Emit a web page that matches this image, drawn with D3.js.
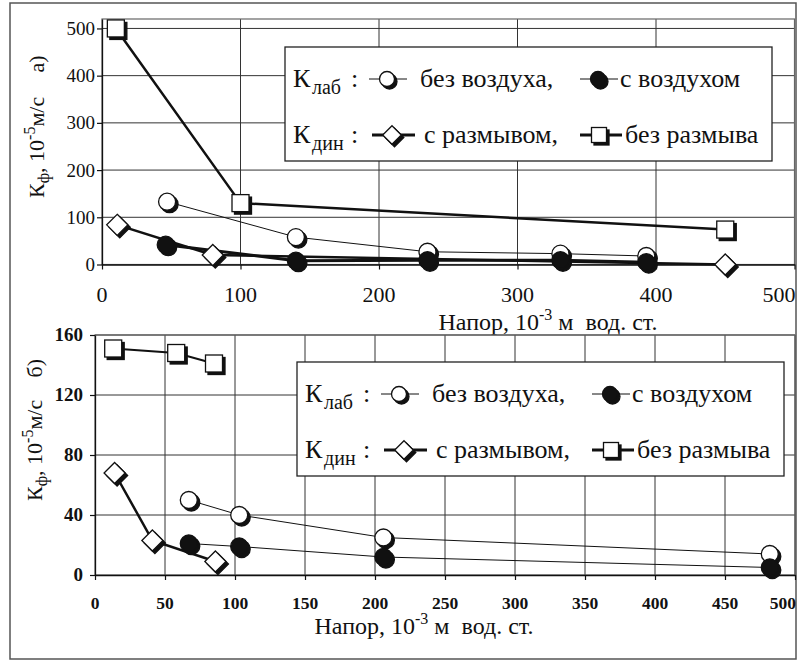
<!DOCTYPE html>
<meta charset="utf-8">
<script src="https://d3js.org/d3.v7.min.js"></script>
<style>
  body { margin: 0; background: #fff; }
</style>
<div id="chart"></div>
<script>

var SERIF = "Liberation Serif";

// ---- панель а) ----
var aXTicks = [0, 100, 200, 300, 400, 500];
var aYTicks = [0, 100, 200, 300, 400, 500];
// К лаб, без воздуха
var aNoAirX = [47, 140, 235, 331, 393];
var aNoAirY = [133, 58, 27, 23, 18];
// К лаб, с воздухом
var aAirX = [46, 140, 235, 331, 393];
var aAirY = [42, 8, 9, 9, 5];
// К дин, с размывом
var aScourX = [11, 80, 450];
var aScourY = [84, 20, 0];
// К дин, без размыва
var aNoScourX = [10, 100, 450];
var aNoScourY = [500, 130, 74];

// ---- панель б) ----
var bXTicks = [0, 50, 100, 150, 200, 250, 300, 350, 400, 450, 500];
var bYTicks = [0, 40, 80, 120, 160];
var bNoAirX = [67, 103, 206, 482];
var bNoAirY = [50, 40, 25, 14];
var bAirX = [67, 103, 206, 482];
var bAirY = [21, 19, 12, 5];
var bScourX = [14, 41, 86];
var bScourY = [68, 23, 9];
var bNoScourX = [13, 58, 85];
var bNoScourY = [151, 148, 141];

var svg = d3.select("#chart")
  .append("svg")
    .attr("width", 798)
    .attr("height", 661);

// outer frame of the scanned figure
svg.append("rect")
  .attr("x", 10).attr("y", 3)
  .attr("width", 786).attr("height", 656)
  .attr("fill", "none")
  .attr("stroke", "#555")
  .attr("stroke-width", 1.5);

// every text goes straight into the svg root, font set on the element itself
function txt(x, y, size) {
  return svg.append("text")
    .attr("x", x).attr("y", y)
    .attr("font-family", SERIF)
    .style("font-family", SERIF)
    .attr("font-size", size)
    .attr("fill", "#111");
}

function marker(g, type, cx, cy, s) {
  // shadow first, then the marker itself
  var shapes = [[2.5, "#111", "#111"], [0, type == "air" ? "#111" : "#fff", "#111"]];
  shapes.forEach(function(sh) {
    var el;
    if (type == "noair" || type == "air") {
      el = g.append("circle").attr("cx", cx + sh[0]).attr("cy", cy + sh[0]).attr("r", s * 0.5);
    } else if (type == "noscour") {
      el = g.append("rect").attr("x", cx - s * 0.5 + sh[0]).attr("y", cy - s * 0.5 + sh[0])
        .attr("width", s).attr("height", s);
    } else {
      var h = s * 0.62;
      el = g.append("path")
        .attr("d", "M0," + (-h) + "L" + h + ",0L0," + h + "L" + (-h) + ",0Z")
        .attr("transform", "translate(" + (cx + sh[0]) + "," + (cy + sh[0]) + ")");
    }
    el.attr("fill", sh[1]).attr("stroke", sh[2]).attr("stroke-width", 1.3);
  });
}

function drawPanel(p) {
  var x = d3.scaleLinear().domain([0, 500]).range(p.xRange);
  var y = d3.scaleLinear().domain(p.yDomain).range(p.yRange);
  var g = svg.append("g");

  // grid
  g.selectAll(".vg").data(p.xTicks.slice(1)).enter().append("line")
    .attr("x1", d => x(d)).attr("x2", d => x(d))
    .attr("y1", y(0)).attr("y2", y(p.yDomain[1]))
    .attr("stroke", "#333").attr("stroke-width", 1);
  g.selectAll(".hg").data(p.yTicks.slice(1)).enter().append("line")
    .attr("x1", x(0)).attr("x2", x(500))
    .attr("y1", d => y(d)).attr("y2", d => y(d))
    .attr("stroke", "#333").attr("stroke-width", 1);
  g.append("rect")
    .attr("x", x(0)).attr("y", y(p.yDomain[1]))
    .attr("width", x(500) - x(0)).attr("height", y(0) - y(p.yDomain[1]))
    .attr("fill", "none").attr("stroke", "#666").attr("stroke-width", 1.2);

  // axes: lines and tick marks from d3, labels drawn below from the same scales
  g.append("g")
    .attr("transform", "translate(0," + y(0) + ")")
    .call(d3.axisBottom(x).tickValues(p.xTicks).tickSize(5).tickFormat("").tickSizeOuter(0));
  g.append("g")
    .attr("transform", "translate(" + x(0) + ",0)")
    .call(d3.axisLeft(y).tickValues(p.yTicks).tickSize(5).tickFormat("").tickSizeOuter(0));
  g.selectAll(".domain").attr("stroke", "#111").attr("stroke-width", 1.3);
  g.selectAll(".tick line").attr("stroke", "#111").attr("stroke-width", 1.2);

  p.xTicks.forEach(function(t, i) {
    var last = i == p.xTicks.length - 1;
    txt(last ? x(t) + 1 : x(t), y(0) + p.xOff, p.xFont)
      .attr("text-anchor", last ? "end" : "middle")
      .attr("font-weight", p.weight)
      .text(t);
  });
  p.yTicks.forEach(function(t) {
    txt(x(0) - p.yOff, y(t) + p.yFont * 0.34, p.yFont)
      .attr("text-anchor", "end")
      .attr("font-weight", p.weight)
      .text(t);
  });

  // series
  var line = d3.line().x(d => x(d[0])).y(d => y(d[1]));
  p.series.forEach(function(s) {
    g.append("path").datum(d3.zip(s.xs, s.ys))
      .attr("d", line)
      .attr("fill", "none")
      .attr("stroke", "#111")
      .attr("stroke-width", s.width);
  });
  p.series.forEach(function(s) {
    d3.zip(s.xs, s.ys).forEach(function(d) {
      marker(g, s.type, x(d[0]), y(d[1]), 17);
    });
  });

  // axis titles
  var xt = txt(p.xTitle[0], p.xTitle[1], 24).attr("text-anchor", "middle");
  xt.append("tspan").text("Напор, 10");
  xt.append("tspan").attr("font-size", 16).attr("dy", -10).text("-3");
  xt.append("tspan").attr("dy", 10).text("\u00a0м\u00a0\u00a0вод. ст.");

  // y title, read bottom to top, with the panel tag at its end
  var yt = txt(0, 0, 22)
    .attr("transform", "translate(" + p.yTitle[0] + "," + p.yTitle[1] + ") rotate(-90)");
  yt.append("tspan").text("К");
  yt.append("tspan").attr("font-size", 16).attr("dy", 5).text("ф");
  yt.append("tspan").attr("dy", -5).text(", 10");
  yt.append("tspan").attr("font-size", 16).attr("dy", -9).text("-5");
  yt.append("tspan").attr("dy", 9).text("м/с");
  yt.append("tspan").attr("dx", p.tagGap).text(p.tag);

  // legend
  var L = p.legend[0], T = p.legend[1];
  var lg = g.append("g");
  lg.append("rect")
    .attr("x", L).attr("y", T).attr("width", 487).attr("height", 114)
    .attr("fill", "#fff").attr("stroke", "#222").attr("stroke-width", 1.3);
  var rows = [
    {sub: "лаб", base: T + 40, items: [
      {type: "noair", w: 1, a: 84, b: 122, c: 102, tx: 135, label: "без воздуха,"},
      {type: "air", w: 1, a: 295, b: 333, c: 313, tx: 335, label: "с воздухом"}]},
    {sub: "дин", base: T + 96, items: [
      {type: "scour", w: 3, a: 87, b: 130, c: 107, tx: 139, label: "с размывом,"},
      {type: "noscour", w: 3, a: 295, b: 337, c: 314, tx: 340, label: "без размыва"}]}
  ];
  rows.forEach(function(r) {
    txt(L + 8, r.base, 26).text("К");
    txt(L + 27, r.base + 7, 20).text(r.sub);
    txt(L + 66, r.base, 26).text(":");
    r.items.forEach(function(it) {
      var cy = r.base - 8;
      lg.append("line")
        .attr("x1", L + it.a).attr("x2", L + it.b)
        .attr("y1", cy).attr("y2", cy)
        .attr("stroke", "#111").attr("stroke-width", it.w);
      marker(lg, it.type, L + it.c, cy, 15);
      txt(L + it.tx, r.base, 26).text(it.label);
    });
  });
}

drawPanel({
  xRange: [102, 794.5], yDomain: [0, 520], yRange: [264.5, 19],
  xTicks: aXTicks, yTicks: aYTicks,
  xOff: 37, yOff: 7, xFont: 22, yFont: 19, weight: "normal",
  xTitle: [548, 330], yTitle: [44, 198], tag: "а)", tagGap: 24,
  legend: [285, 47],
  series: [
    {xs: aNoScourX, ys: aNoScourY, type: "noscour", width: 2.5},
    {xs: aNoAirX, ys: aNoAirY, type: "noair", width: 1},
    {xs: aScourX, ys: aScourY, type: "scour", width: 2.5},
    {xs: aAirX, ys: aAirY, type: "air", width: 3}
  ]
});

drawPanel({
  xRange: [95, 795], yDomain: [0, 160], yRange: [575, 335],
  xTicks: bXTicks, yTicks: bYTicks,
  xOff: 34, yOff: 12, xFont: 17.5, yFont: 19, weight: "bold",
  xTitle: [424, 634], yTitle: [42, 501], tag: "б)", tagGap: 22,
  legend: [297, 362],
  series: [
    {xs: bNoScourX, ys: bNoScourY, type: "noscour", width: 2},
    {xs: bNoAirX, ys: bNoAirY, type: "noair", width: 1},
    {xs: bScourX, ys: bScourY, type: "scour", width: 2.5},
    {xs: bAirX, ys: bAirY, type: "air", width: 1}
  ]
});

</script>
